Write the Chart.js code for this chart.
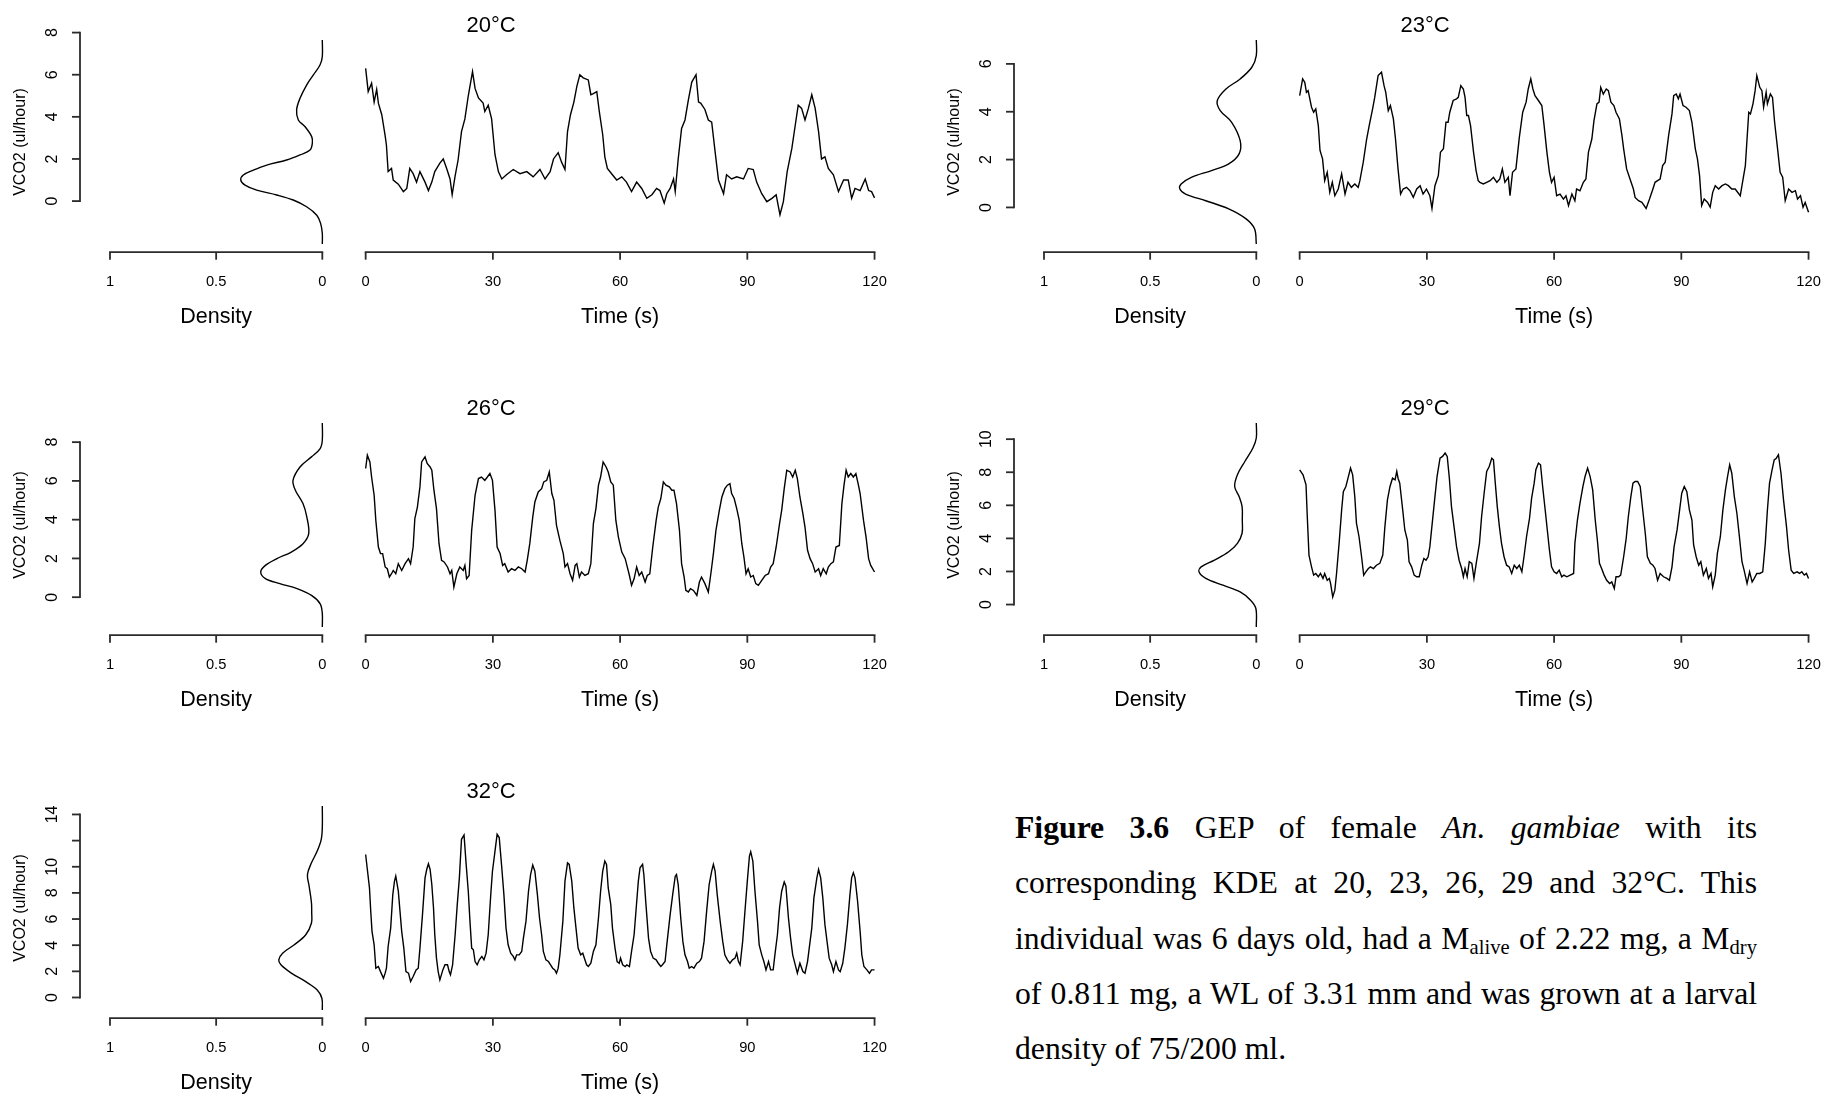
<!DOCTYPE html>
<html>
<head>
<meta charset="utf-8">
<title>GEP and KDE of female An. gambiae</title>
<script src="https://cdn.jsdelivr.net/npm/chart.js@4.4.1/dist/chart.umd.min.js"></script>
<style>
  html, body { margin: 0; padding: 0; background: #fff; overflow: hidden; }
  body { width: 1834px; height: 1098px; position: relative; }
  .panel { position: absolute; width: 900px; height: 332px; }
  .panel canvas { position: absolute; left: 0; top: 0; }
  #caption {
    position: absolute; left: 1015px; top: 800px; width: 742px;
    font-family: "Liberation Serif", "Times New Roman", serif; font-size: 31.7px; color: #000;
  }
  #caption .ln { height: 55.3px; line-height: 55.3px; text-align: justify; text-align-last: justify; }
  #caption .ln.last { text-align: left; text-align-last: left; }
  #caption sub { font-size: 0.65em; vertical-align: -0.22em; line-height: 0; }
</style>
</head>
<body>
<div id="caption">
  <div class="ln"><b>Figure 3.6</b> GEP of female <i>An. gambiae</i> with its</div>
  <div class="ln">corresponding KDE at 20, 23, 26, 29 and 32°C. This</div>
  <div class="ln">individual was 6 days old, had a M<sub>alive</sub> of 2.22 mg, a M<sub>dry</sub></div>
  <div class="ln">of 0.811 mg, a WL of 3.31 mm and was grown at a larval</div>
  <div class="ln last">density of 75/200 ml.</div>
</div>
<script>
// ---- data ----
const TIME_TICKS = [0, 30, 60, 90, 120];
const DENSITY_TICKS = [1, 0.5, 0];
const DENSITY_LABELS = ["1", "0.5", "0"];
const TITLES = ["20°C", "23°C", "26°C", "29°C", "32°C"];

const yTicks20 = [0, 2, 4, 6, 8];
const yTicks23 = [0, 2, 4, 6];
const yTicks26 = [0, 2, 4, 6, 8];
const yTicks29 = [0, 2, 4, 6, 8, 10];
const yTicks32 = [0, 2, 4, 6, 8, 10, 12, 14];
const yLabels32 = ["0", "2", "4", "6", "8", "10", "", "14"];

// 20°C
const t20 = [0, 0.6, 1.4, 2.0, 2.6, 3.0, 3.8, 4.6, 4.9, 5.3, 6.1, 6.5, 7.7, 8.9, 9.7, 10.4, 11.2, 12.0, 12.8, 14.0,
  14.8, 15.6, 16.3, 17.5, 18.3, 19.1, 19.9, 20.4, 21.1, 21.8, 22.6, 23.4, 24.2, 25.2, 25.8, 26.6, 27.7, 28.1, 28.9, 29.7,
  30.5, 31.3, 32.1, 33.2, 34.8, 36.4, 38.0, 39.5, 41.1, 42.3, 43.5, 44.3, 45.4, 46.2, 47.0, 47.6, 48.3, 49.1, 49.8, 50.5,
  51.3, 52.5, 53.1, 53.7, 54.5, 55.1, 55.9, 56.4, 57.0, 58.0, 59.2, 60.4, 61.5, 62.7, 63.9, 65.1, 66.3, 67.5, 68.6, 69.4,
  70.4, 71.0, 71.8, 72.6, 73.0, 73.7, 74.5, 75.3, 76.1, 76.9, 77.9, 78.5, 79.0, 80.0, 80.8, 81.6, 82.4, 83.2, 84.4, 85.1,
  86.3, 87.5, 89.1, 90.2, 91.4, 92.2, 93.4, 94.6, 95.8, 96.8, 97.7, 98.5, 99.4, 100.5, 101.3, 102.0, 102.8, 103.6, 104.4, 105.2,
  106.0, 106.8, 107.5, 108.3, 109.1, 110.3, 111.5, 112.7, 113.8, 114.6, 115.4, 116.6, 117.8, 118.6, 119.3, 120.0];
const v20 = [6.3, 5.2, 5.6, 4.7, 5.3, 4.65, 4.1, 3.1, 2.65, 1.4, 1.55, 1.0, 0.8, 0.45, 0.6, 1.55, 1.3, 0.9, 1.4, 0.9,
  0.5, 0.9, 1.4, 1.8, 2.0, 1.55, 1.05, 0.3, 1.2, 1.95, 3.3, 3.9, 5.0, 6.15, 5.35, 4.9, 4.65, 4.25, 4.55, 3.9,
  2.2, 1.4, 1.05, 1.25, 1.5, 1.3, 1.4, 1.15, 1.5, 1.05, 1.4, 2.0, 2.3, 1.85, 1.5, 3.3, 4.1, 4.7, 5.45, 6.0,
  5.85, 5.75, 5.05, 5.1, 5.2, 4.25, 3.15, 2.1, 1.55, 1.3, 1.0, 1.15, 0.9, 0.45, 0.9, 0.6, 0.13, 0.3, 0.6, 0.5,
  -0.1, 0.35, 0.6, 1.05, 0.45, 2.0, 3.45, 3.85, 4.8, 5.65, 6.0, 4.7, 4.65, 4.35, 3.85, 3.75, 2.35, 1.0, 0.35, 1.25,
  1.05, 1.15, 1.05, 1.55, 1.5, 0.9, 0.35, -0.03, 0.13, 0.3, -0.65, -0.03, 1.4, 2.5, 3.6, 4.55, 4.4, 3.85, 4.4, 5.05,
  4.4, 3.3, 2.0, 2.1, 1.55, 1.25, 0.45, 1.0, 1.0, 0.13, 0.6, 0.5, 1.05, 0.5, 0.45, 0.15];
const kdeV20 = [7.65, 6.86, 6.46, 5.99, 5.51, 4.88, 4.33, 3.85, 3.53, 3.06, 2.74, 2.42, 2.19, 1.95, 1.71, 1.47, 1.24, 1.0, 0.76, 0.52, 0.29, 0.05, -0.27, -0.67, -1.06, -1.54, -2.04];
const kdeD20 = [0, 0, 0.011, 0.042, 0.074, 0.105, 0.121, 0.113, 0.081, 0.050, 0.047, 0.058, 0.105, 0.168, 0.262, 0.325, 0.372, 0.384, 0.364, 0.309, 0.215, 0.137, 0.074, 0.026, 0.008, 0, 0];

// 23°C
const t23 = [0, 0.7, 1.2, 1.6, 2.0, 2.8, 3.3, 3.8, 4.4, 4.8, 5.4, 5.9, 6.5, 7.1, 7.7, 8.3, 9.1, 9.9, 10.7, 11.4,
  12.2, 13.0, 13.8, 14.2, 15.0, 15.8, 16.4, 17.2, 17.7, 18.5, 19.3, 19.9, 20.3, 20.9, 21.4, 22.1, 22.6, 23.2, 23.8, 24.4,
  25.2, 26.0, 26.8, 27.6, 28.4, 29.1, 29.9, 30.7, 31.2, 31.9, 32.7, 33.2, 33.9, 34.5, 35.0, 35.4, 36.2, 37.0, 37.4, 38.0,
  38.6, 39.0, 39.4, 39.8, 40.3, 41.0, 41.6, 42.1, 42.5, 43.3, 44.1, 44.9, 45.7, 46.5, 47.2, 47.8, 48.4, 49.2, 49.6, 50.2,
  51.0, 51.8, 52.6, 53.4, 53.9, 54.5, 55.0, 55.5, 56.3, 57.1, 57.6, 58.3, 58.9, 59.4, 60.0, 60.6, 61.4, 62.2, 62.8, 63.4,
  64.2, 64.9, 65.3, 66.1, 66.9, 67.5, 68.1, 68.9, 69.4, 70.1, 70.6, 71.0, 71.6, 72.3, 72.8, 73.4, 74.1, 74.6, 75.4, 76.0,
  76.4, 77.1, 77.9, 78.7, 79.1, 79.9, 80.7, 81.7, 82.5, 83.3, 83.8, 84.4, 85.0, 85.6, 86.2, 87.0, 87.8, 88.2, 88.8, 89.3,
  89.7, 90.4, 91.1, 91.9, 92.5, 93.3, 93.8, 94.3, 94.8, 95.4, 96.2, 96.8, 97.4, 98.0, 98.8, 99.6, 100.4, 101.1, 101.9, 102.7,
  103.9, 104.3, 105.1, 105.9, 106.3, 106.9, 107.4, 107.8, 108.5, 109.0, 109.4, 110.0, 110.3, 111.0, 111.5, 112.0, 112.7, 113.3, 113.9, 114.5,
  115.3, 116.1, 116.9, 117.4, 118.1, 118.7, 119.2, 120.0];
const v23 = [4.67, 5.37, 5.23, 4.81, 4.88, 4.19, 3.98, 4.12, 3.42, 2.38, 2.03, 1.12, 1.47, 0.63, 1.05, 0.49, 0.77, 1.40, 0.56, 1.05,
  0.84, 0.98, 0.84, 1.12, 1.89, 2.86, 3.42, 4.12, 4.60, 5.51, 5.65, 5.09, 4.81, 4.05, 4.26, 3.70, 2.86, 1.61, 0.56, 0.77,
  0.84, 0.70, 0.42, 0.77, 0.91, 0.56, 0.77, 0.49, -0.04, 0.91, 1.33, 2.31, 2.45, 3.56, 3.56, 3.98, 4.47, 4.54, 4.60, 5.09,
  4.95, 4.60, 3.84, 3.84, 3.42, 2.31, 1.54, 1.12, 1.05, 0.98, 1.05, 1.12, 1.26, 1.05, 1.19, 1.61, 1.05, 1.26, 0.49, 1.47,
  1.61, 2.93, 3.98, 4.40, 4.95, 5.37, 4.95, 4.67, 4.47, 4.26, 3.49, 2.31, 1.47, 1.05, 1.26, 0.49, 0.56, 0.35, 0.49, 0.08,
  0.56, 0.28, 0.77, 0.70, 1.05, 1.19, 2.31, 2.86, 3.63, 4.33, 4.40, 5.02, 4.74, 4.95, 4.88, 4.40, 4.26, 3.98, 3.70, 3.00,
  2.45, 1.61, 1.19, 0.77, 0.42, 0.28, 0.21, -0.04, 0.35, 0.77, 1.05, 1.12, 1.19, 1.75, 1.89, 3.00, 3.91, 4.67, 4.74, 4.54,
  4.74, 4.26, 4.19, 4.05, 3.56, 2.45, 2.03, 1.33, 0.08, 0.35, 0.21, 0.01, 0.63, 0.91, 0.77, 0.91, 0.98, 0.91, 0.77, 0.77,
  0.49, 0.91, 1.75, 3.98, 3.91, 4.33, 4.88, 5.51, 5.02, 4.88, 4.19, 4.81, 4.33, 4.74, 4.60, 3.56, 2.45, 1.47, 1.26, 0.28,
  0.77, 0.63, 0.70, 0.35, 0.49, 0.01, 0.21, -0.20];
const kdeV23 = [7.0, 6.35, 5.86, 5.37, 4.95, 4.46, 4.05, 3.56, 2.79, 2.24, 1.82, 1.54, 1.26, 0.98, 0.77, 0.56, 0.28, -0.06, -0.48, -0.90, -1.53];
const kdeD23 = [0, 0, 0.021, 0.076, 0.143, 0.184, 0.170, 0.116, 0.076, 0.081, 0.130, 0.211, 0.306, 0.354, 0.360, 0.333, 0.238, 0.130, 0.048, 0.008, 0];

// 26°C
const t26 = [0, 0.4, 1.0, 1.4, 2.0, 2.4, 3.0, 3.5, 4.0, 4.6, 5.1, 5.6, 6.1, 6.5, 7.1, 7.7, 8.5, 9.3, 10.1, 10.6,
  11.2, 11.6, 12.2, 12.8, 13.2, 14.0, 14.5, 15.2, 15.6, 16.1, 16.7, 17.3, 17.9, 18.5, 19.3, 19.9, 20.3, 20.8, 21.5, 22.2,
  23.0, 23.4, 23.8, 24.4, 25.0, 25.8, 26.6, 27.3, 28.1, 28.7, 29.3, 29.9, 30.5, 31.0, 31.7, 32.3, 32.8, 33.6, 34.4, 35.2,
  36.0, 36.8, 37.6, 38.1, 38.7, 39.4, 39.9, 40.7, 41.5, 42.0, 42.7, 43.3, 43.9, 44.4, 45.0, 45.8, 46.6, 47.0, 47.6, 48.2,
  48.8, 49.4, 49.8, 50.4, 50.9, 51.7, 52.5, 53.1, 53.7, 54.3, 54.9, 55.4, 56.0, 56.7, 57.2, 57.8, 58.4, 59.0, 59.6, 60.4,
  61.2, 61.6, 62.2, 62.7, 63.3, 63.9, 64.5, 65.1, 65.9, 66.4, 67.0, 67.7, 68.5, 69.0, 69.6, 70.2, 70.8, 71.6, 72.2, 72.7,
  73.3, 74.0, 74.5, 75.1, 75.5, 76.1, 76.6, 77.3, 78.1, 78.7, 79.2, 80.0, 80.8, 81.4, 82.0, 82.6, 83.4, 84.0, 84.7, 85.3,
  85.9, 86.3, 86.9, 87.5, 88.1, 88.7, 89.2, 89.7, 90.2, 90.8, 91.4, 92.0, 92.6, 93.4, 94.2, 95.0, 95.5, 96.1, 96.8, 97.6,
  98.1, 98.7, 99.3, 100.1, 100.7, 101.3, 101.8, 102.4, 103.1, 103.6, 104.2, 104.8, 105.4, 106.0, 106.8, 107.3, 107.9, 108.6, 109.1, 109.7,
  110.3, 110.9, 111.7, 112.3, 112.8, 113.3, 113.8, 114.4, 115.0, 115.6, 116.2, 116.6, 117.4, 118.0, 118.6, 119.1, 120.0];
const v26 = [6.64, 7.33, 6.98, 6.20, 5.26, 3.96, 2.59, 2.25, 2.25, 1.56, 1.47, 1.04, 1.21, 1.38, 1.21, 1.73, 1.38, 1.73, 1.99, 1.73,
  2.59, 4.06, 4.65, 5.69, 6.98, 7.24, 6.90, 6.72, 6.55, 5.52, 4.57, 2.76, 1.90, 1.82, 1.56, 1.21, 1.38, 0.52, 1.21, 1.56,
  1.38, 1.64, 0.95, 1.12, 3.45, 5.26, 6.12, 6.20, 6.03, 6.20, 6.38, 6.03, 4.48, 2.59, 2.25, 1.64, 1.73, 1.30, 1.47, 1.38,
  1.56, 1.47, 1.30, 1.90, 2.76, 4.13, 4.91, 5.43, 5.60, 5.95, 6.03, 6.46, 5.35, 5.00, 3.71, 2.93, 2.25, 1.56, 1.73, 1.21,
  0.87, 1.64, 1.73, 1.04, 1.30, 1.12, 1.21, 1.73, 3.80, 4.57, 5.78, 6.20, 6.98, 6.72, 6.46, 5.95, 5.78, 3.96, 3.10, 2.33,
  1.99, 1.64, 1.12, 0.61, 0.95, 1.56, 1.12, 1.30, 0.78, 1.12, 1.21, 2.59, 3.96, 4.65, 5.09, 5.95, 5.78, 5.69, 5.52, 5.52,
  4.83, 3.45, 1.73, 1.04, 0.35, 0.27, 0.44, 0.35, 0.09, 0.78, 1.04, 0.70, 0.27, 1.21, 2.25, 3.45, 4.48, 5.17, 5.60, 5.78,
  5.86, 5.35, 5.09, 4.57, 3.96, 2.76, 2.07, 1.21, 1.47, 1.04, 1.12, 0.70, 0.61, 0.87, 1.12, 1.21, 1.56, 1.73, 2.59, 3.80,
  4.48, 5.60, 6.55, 6.46, 6.20, 6.55, 6.12, 5.17, 4.31, 3.62, 2.42, 1.99, 1.73, 1.30, 1.47, 1.12, 1.47, 1.21, 1.56, 1.73,
  1.82, 2.59, 2.67, 4.83, 5.78, 6.55, 6.20, 6.38, 6.20, 6.38, 5.78, 5.35, 3.96, 3.10, 1.99, 1.64, 1.30];
const kdeV26 = [8.99, 8.1, 7.67, 7.24, 6.72, 6.03, 5.52, 4.83, 4.14, 3.28, 2.76, 2.33, 1.99, 1.64, 1.30, 0.96, 0.70, 0.44, 0.09, -0.34, -0.85, -1.54];
const kdeD26 = [0, 0, 0.01, 0.051, 0.105, 0.138, 0.127, 0.091, 0.073, 0.064, 0.091, 0.146, 0.214, 0.268, 0.29, 0.268, 0.200, 0.119, 0.051, 0.01, 0, 0];

// 29°C
const t29 = [0, 0.8, 1.5, 1.8, 2.2, 2.8, 3.3, 3.8, 4.4, 4.9, 5.5, 5.9, 6.5, 7.0, 7.3, 7.8, 8.3, 8.7, 9.3, 9.9,
  10.3, 10.9, 11.4, 12.0, 12.5, 13.0, 13.4, 14.0, 14.6, 15.1, 15.6, 16.2, 16.7, 17.4, 18.1, 18.9, 19.6, 20.1, 20.7, 21.3,
  21.9, 22.5, 22.9, 23.2, 23.6, 24.3, 24.8, 25.4, 25.8, 26.4, 27.0, 27.6, 28.2, 28.8, 29.3, 29.8, 30.3, 30.7, 31.3, 31.9,
  32.4, 33.1, 33.7, 34.3, 34.8, 35.3, 35.8, 36.4, 37.0, 37.6, 38.2, 38.6, 39.0, 39.5, 40.0, 40.6, 41.1, 41.7, 42.4, 42.9,
  43.5, 44.1, 44.7, 45.3, 45.7, 46.1, 46.6, 47.1, 47.6, 48.2, 48.8, 49.4, 50.0, 50.6, 51.2, 51.8, 52.4, 52.9, 53.5, 54.2,
  54.7, 55.3, 55.7, 56.3, 56.8, 57.3, 57.9, 58.4, 58.9, 59.4, 60.0, 60.6, 61.2, 61.8, 62.3, 63.0, 63.8, 64.6, 64.9, 65.5,
  66.1, 66.8, 67.3, 67.9, 68.5, 69.1, 69.7, 70.2, 70.7, 71.2, 71.8, 72.4, 73.1, 73.6, 74.2, 74.6, 75.2, 75.7, 76.4, 77.0,
  77.5, 78.1, 78.6, 79.1, 79.7, 80.3, 80.9, 81.5, 82.0, 82.7, 83.3, 83.8, 84.4, 85.0, 85.8, 86.6, 87.2, 87.8, 88.3, 89.0,
  89.6, 90.1, 90.7, 91.3, 91.9, 92.5, 92.9, 93.5, 94.1, 94.6, 95.2, 95.9, 96.4, 97.0, 97.4, 98.0, 98.5, 99.2, 99.8, 100.4,
  100.9, 101.4, 101.9, 102.5, 103.1, 103.7, 104.3, 104.8, 105.5, 106.1, 106.7, 107.2, 107.8, 108.5, 109.2, 109.8, 110.3, 110.8, 111.4, 111.9,
  112.4, 112.9, 113.5, 114.1, 114.8, 115.3, 115.9, 116.5, 117.3, 117.9, 118.4, 119.0, 119.5, 120.0];
const v29 = [8.15, 7.84, 7.24, 5.31, 2.99, 2.28, 1.78, 1.88, 1.68, 1.88, 1.58, 1.88, 1.47, 1.58, 1.27, 0.46, 0.87, 1.88, 3.70, 5.72,
  6.83, 7.14, 7.64, 8.25, 7.84, 6.53, 4.91, 4.10, 2.89, 1.78, 1.98, 2.18, 2.28, 2.18, 2.38, 2.49, 2.99, 4.71, 6.33, 7.14,
  7.64, 7.54, 8.05, 7.64, 7.34, 5.72, 4.51, 3.90, 2.59, 2.28, 1.78, 1.68, 1.68, 2.38, 2.79, 2.68, 2.89, 3.50, 5.01, 6.53,
  7.74, 8.85, 8.96, 9.16, 8.96, 7.64, 5.92, 4.71, 3.50, 2.68, 2.18, 1.68, 2.18, 1.68, 2.59, 2.49, 1.58, 2.59, 3.70, 5.31,
  6.73, 8.05, 8.35, 8.85, 8.75, 7.44, 5.92, 4.71, 3.70, 2.89, 2.38, 2.28, 1.88, 2.38, 2.18, 2.38, 1.98, 2.89, 4.10, 5.21,
  6.43, 7.34, 8.15, 8.55, 8.45, 7.14, 5.72, 4.51, 3.30, 2.28, 1.98, 1.88, 2.08, 1.68, 1.78, 1.68, 1.78, 1.88, 3.70, 5.11,
  6.13, 7.14, 7.74, 8.25, 7.74, 6.93, 5.11, 3.90, 2.49, 2.18, 1.78, 1.47, 1.27, 1.37, 0.97, 1.68, 1.68, 1.78, 2.89, 4.00,
  5.31, 6.53, 7.34, 7.44, 7.44, 7.14, 5.72, 4.31, 2.89, 2.49, 2.38, 2.18, 1.47, 1.88, 1.68, 1.58, 1.47, 2.28, 3.50, 4.51,
  5.72, 6.73, 7.14, 6.83, 5.72, 5.11, 3.60, 2.89, 2.38, 2.59, 1.78, 2.18, 1.58, 1.88, 1.07, 1.78, 3.09, 4.10, 5.72, 6.93,
  7.74, 8.45, 7.94, 6.53, 5.52, 4.10, 2.59, 2.08, 1.27, 1.98, 1.37, 1.58, 1.88, 1.88, 1.98, 3.70, 5.72, 7.34, 8.15, 8.75,
  8.85, 9.06, 7.94, 6.33, 4.71, 3.30, 2.08, 1.88, 1.98, 1.88, 1.98, 1.78, 1.88, 1.58];
const kdeV29 = [10.98, 10.07, 9.47, 8.65, 7.85, 7.14, 6.53, 5.92, 5.1, 4.31, 3.70, 3.19, 2.69, 2.28, 1.98, 1.58, 1.17, 0.76, 0.26, -0.24, -1.36];
const kdeD29 = [0, 0, 0.016, 0.054, 0.089, 0.102, 0.081, 0.067, 0.066, 0.067, 0.089, 0.13, 0.197, 0.26, 0.27, 0.238, 0.157, 0.076, 0.027, 0.002, 0];

// 32°C
const t32 = [0, 0.4, 0.9, 1.2, 1.5, 2.0, 2.4, 3.0, 3.5, 4.2, 4.6, 4.9, 5.3, 5.9, 6.4, 6.8, 7.1, 7.7, 8.1, 8.5,
  9.0, 9.5, 10.1, 10.6, 11.2, 11.9, 12.4, 12.8, 13.4, 14.0, 14.4, 14.8, 15.2, 15.6, 16.0, 16.3, 16.7, 17.1, 17.5, 18.2,
  18.7, 19.3, 19.7, 20.0, 20.5, 21.1, 21.6, 22.1, 22.6, 23.2, 23.7, 24.2, 24.6, 25.0, 25.4, 25.8, 26.3, 26.8, 27.4, 27.9,
  28.4, 28.9, 29.5, 29.9, 30.5, 31.0, 31.5, 32.1, 32.6, 33.1, 33.6, 34.2, 34.8, 35.2, 35.6, 36.2, 36.8, 37.2, 37.8, 38.4,
  38.9, 39.4, 39.9, 40.5, 41.0, 41.5, 41.9, 42.5, 43.1, 43.6, 44.1, 44.6, 45.0, 45.4, 45.8, 46.5, 47.0, 47.6, 48.0, 48.6,
  49.1, 49.6, 50.1, 50.7, 51.2, 51.7, 52.1, 52.5, 53.1, 53.7, 54.3, 54.9, 55.4, 55.9, 56.4, 56.8, 57.2, 57.8, 58.2, 58.8,
  59.3, 59.8, 60.1, 60.6, 61.2, 61.6, 62.2, 62.7, 63.3, 63.8, 64.3, 64.7, 65.3, 65.6, 66.1, 66.7, 67.2, 67.8, 68.5, 69.0,
  69.6, 70.0, 70.6, 71.1, 71.8, 72.4, 73.0, 73.3, 73.7, 74.3, 74.8, 75.3, 75.9, 76.3, 76.9, 77.4, 78.1, 78.7, 79.2, 79.8,
  80.4, 81.0, 81.6, 82.0, 82.4, 82.9, 83.6, 84.2, 84.7, 85.3, 85.9, 86.5, 87.1, 87.5, 87.9, 88.3, 88.9, 89.5, 90.0, 90.5,
  90.8, 91.3, 91.8, 92.4, 92.8, 93.4, 93.9, 94.4, 95.0, 95.5, 96.1, 96.5, 97.1, 97.6, 98.1, 98.7, 99.1, 99.7, 100.2, 100.7,
  101.3, 101.8, 102.4, 103.1, 103.6, 104.2, 104.6, 105.2, 105.7, 106.4, 106.8, 107.3, 107.8, 108.3, 108.9, 109.3, 109.9, 110.3, 110.9, 111.5,
  111.9, 112.5, 113.0, 113.6, 114.2, 114.6, 115.0, 115.4, 116.0, 116.6, 117.0, 117.5, 118.2, 118.8, 119.3, 120.0];
const v32 = [10.94, 9.79, 8.38, 6.59, 5.06, 4.03, 2.24, 2.37, 1.98, 1.47, 1.86, 2.24, 3.90, 5.31, 7.87, 8.90, 9.28, 8.13, 6.59, 5.06,
  3.78, 1.98, 1.86, 1.22, 1.60, 2.11, 2.24, 3.78, 6.34, 9.15, 9.79, 10.23, 9.79, 8.64, 6.85, 4.80, 3.01, 1.98, 1.34, 2.11,
  2.50, 2.50, 1.98, 1.73, 2.50, 4.80, 7.10, 9.15, 12.10, 12.43, 10.18, 8.13, 5.82, 3.78, 3.65, 2.75, 2.50, 2.88, 3.14, 2.88,
  3.39, 4.80, 7.87, 9.66, 11.20, 12.48, 12.23, 9.92, 7.87, 5.31, 4.03, 3.39, 3.14, 2.88, 3.26, 3.26, 3.52, 4.54, 5.82, 8.13,
  9.41, 10.13, 9.66, 7.87, 6.08, 4.80, 3.52, 2.88, 2.75, 2.50, 2.24, 2.11, 1.86, 2.24, 3.26, 5.82, 8.90, 10.30, 10.18, 8.90,
  6.85, 5.31, 3.78, 3.26, 3.39, 2.88, 2.50, 2.37, 2.62, 3.52, 4.03, 6.08, 8.13, 9.66, 10.43, 10.18, 8.38, 7.10, 5.31, 3.78,
  2.75, 2.62, 3.01, 2.50, 2.37, 2.50, 2.37, 3.52, 4.80, 6.85, 8.90, 9.92, 10.18, 9.41, 7.10, 4.54, 3.52, 3.01, 2.88, 2.62,
  2.37, 2.50, 2.75, 4.29, 6.34, 7.87, 9.28, 9.41, 8.64, 6.08, 4.29, 3.26, 2.75, 2.24, 2.37, 2.24, 2.62, 2.75, 3.01, 4.29,
  6.59, 8.64, 9.66, 10.18, 9.66, 7.87, 5.82, 4.29, 3.26, 2.88, 2.62, 2.88, 3.01, 3.39, 2.75, 2.50, 4.29, 6.85, 8.90, 10.82,
  11.15, 10.43, 8.13, 5.82, 4.03, 3.26, 2.75, 2.11, 2.75, 2.11, 2.11, 3.26, 4.80, 6.85, 8.13, 8.84, 8.51, 6.08, 4.54, 3.26,
  2.50, 1.86, 2.62, 1.98, 1.86, 2.75, 3.78, 5.31, 7.62, 9.15, 9.79, 9.15, 7.62, 5.57, 4.03, 3.01, 2.50, 1.98, 2.75, 2.11,
  1.98, 2.62, 3.78, 5.57, 7.87, 9.15, 9.54, 9.15, 7.36, 5.06, 3.26, 2.37, 2.11, 1.86, 2.11, 2.11];
const kdeV32 = [14.65, 13.0, 12.1, 11.2, 10.3, 9.41, 8.51, 7.23, 6.5, 5.70, 4.80, 4.03, 3.39, 2.88, 2.50, 1.86, 1.21, 0.58, -0.06, -0.96];
const kdeD32 = [0, 0, 0.005, 0.024, 0.051, 0.07, 0.062, 0.051, 0.05, 0.051, 0.078, 0.132, 0.187, 0.205, 0.195, 0.146, 0.078, 0.024, 0.002, 0];

// ---- layout ----
const COL_X = [0, 934];
const ROW_Y = [0, 383, 766];
const PANEL_W = 900, PANEL_H = 332;
const PLOT_TOP = 31.8, PLOT_BOTTOM = 252.2;
const DENS_LEFT = 101.5, DENS_RIGHT = 330.8;
const TIME_LEFT = 345.3, TIME_RIGHT = 894.9;
const TITLE_X = 491;
const SANS = '"Liberation Sans", Arial, Helvetica, sans-serif';

const panels = [
  { title: TITLES[0], t: t20, v: v20, kv: kdeV20, kd: kdeD20, yTicks: yTicks20, col: 0, row: 0 },
  { title: TITLES[1], t: t23, v: v23, kv: kdeV23, kd: kdeD23, yTicks: yTicks23, col: 1, row: 0 },
  { title: TITLES[2], t: t26, v: v26, kv: kdeV26, kd: kdeD26, yTicks: yTicks26, col: 0, row: 1 },
  { title: TITLES[3], t: t29, v: v29, kv: kdeV29, kd: kdeD29, yTicks: yTicks29, col: 1, row: 1 },
  { title: TITLES[4], t: t32, v: v32, kv: kdeV32, kd: kdeD32, yTicks: yTicks32, yLabels: yLabels32, col: 0, row: 2 },
];

// R-style axes: line only between first and last tick, ticks pointing out
const rAxes = {
  id: "rAxes",
  afterDraw(chart, args, o) {
    const { ctx, chartArea: a } = chart;
    const sx = chart.scales.x, sy = chart.scales.y;
    const seg = (x1, y1, x2, y2) => {
      ctx.beginPath();
      ctx.moveTo(x1, y1);
      ctx.lineTo(x2, y2);
      ctx.stroke();
    };
    ctx.save();
    ctx.strokeStyle = "#2b2b2b";
    ctx.fillStyle = "#000";
    ctx.lineWidth = 1.8;

    const ay = a.bottom;
    const xs = o.xTicks.map((v) => sx.getPixelForValue(v));
    seg(Math.min(...xs) - 0.9, ay, Math.max(...xs) + 0.9, ay);
    xs.forEach((px) => seg(px, ay, px, ay + 7.5));
    ctx.textAlign = "center";
    ctx.textBaseline = "alphabetic";
    ctx.font = "14.7px " + SANS;
    o.xTicks.forEach((v, i) => ctx.fillText(o.xLabels ? o.xLabels[i] : String(v), xs[i], ay + 34));
    ctx.font = "21.5px " + SANS;
    ctx.fillText(o.xTitle, (a.left + a.right) / 2, ay + 71);

    if (o.yTicks) {
      const ax = a.left - 21.5;
      const ys = o.yTicks.map((v) => sy.getPixelForValue(v));
      seg(ax, Math.max(...ys) + 0.9, ax, Math.min(...ys) - 0.9);
      ys.forEach((py) => seg(ax, py, ax - 8, py));
      ctx.font = "16px " + SANS;
      ctx.textBaseline = "middle";
      o.yTicks.forEach((v, i) => {
        const lab = o.yLabels ? o.yLabels[i] : String(v);
        if (!lab) return;
        ctx.save();
        ctx.translate(ax - 27, ys[i]);
        ctx.rotate(-Math.PI / 2);
        ctx.fillText(lab, 0, 0);
        ctx.restore();
      });
      ctx.save();
      ctx.translate(a.left - 80.5, (a.top + a.bottom) / 2);
      ctx.rotate(-Math.PI / 2);
      ctx.fillText(o.yTitle, 0, 0);
      ctx.restore();
    }

    if (o.title) {
      ctx.font = "22px " + SANS;
      ctx.textBaseline = "alphabetic";
      ctx.fillText(o.title, o.titleX, a.top + 0.5);
    }
    ctx.restore();
  },
};

function rRange(vals) {
  const lo = Math.min(...vals), hi = Math.max(...vals);
  const pad = (hi - lo) * 0.04;
  return [lo - pad, hi + pad];
}

function lineSet(xs, ys, tension) {
  return {
    data: xs.map((x, i) => ({ x, y: ys[i] })),
    showLine: true,
    borderColor: "#000",
    borderWidth: 1.4,
    pointRadius: 0,
    fill: false,
    tension,
  };
}

function baseOptions(padLeft, padRight, xScale, yMin, yMax, axesOpts) {
  return {
    responsive: false,
    animation: false,
    events: [],
    layout: { padding: { left: padLeft, right: padRight, top: PLOT_TOP, bottom: PANEL_H - PLOT_BOTTOM } },
    scales: {
      x: Object.assign({ type: "linear", display: false }, xScale),
      y: { type: "linear", display: false, min: yMin, max: yMax },
    },
    plugins: { legend: { display: false }, tooltip: { enabled: false }, rAxes: axesOpts },
  };
}

function makePanel(p) {
  const wrap = document.createElement("div");
  wrap.className = "panel";
  wrap.style.left = COL_X[p.col] + "px";
  wrap.style.top = ROW_Y[p.row] + "px";
  document.body.appendChild(wrap);

  const [yMin, yMax] = rRange(p.kv);

  const cDens = document.createElement("canvas");
  const cTime = document.createElement("canvas");
  [cDens, cTime].forEach((c) => {
    c.width = PANEL_W;
    c.height = PANEL_H;
    wrap.appendChild(c);
  });

  new Chart(cDens, {
    type: "scatter",
    data: { datasets: [lineSet(p.kd, p.kv, 0.35)] },
    options: baseOptions(
      DENS_LEFT, PANEL_W - DENS_RIGHT,
      { min: -0.04, max: 1.04, reverse: true },
      yMin, yMax,
      { xTicks: DENSITY_TICKS, xLabels: DENSITY_LABELS, xTitle: "Density",
        yTicks: p.yTicks, yLabels: p.yLabels, yTitle: "VCO2 (ul/hour)" }
    ),
    plugins: [rAxes],
  });

  new Chart(cTime, {
    type: "scatter",
    data: { datasets: [lineSet(p.t, p.v, 0)] },
    options: baseOptions(
      TIME_LEFT, PANEL_W - TIME_RIGHT,
      { min: -4.8, max: 124.8 },
      yMin, yMax,
      { xTicks: TIME_TICKS, xTitle: "Time (s)", title: p.title, titleX: TITLE_X }
    ),
    plugins: [rAxes],
  });
}

panels.forEach(makePanel);
</script>
</body>
</html>
